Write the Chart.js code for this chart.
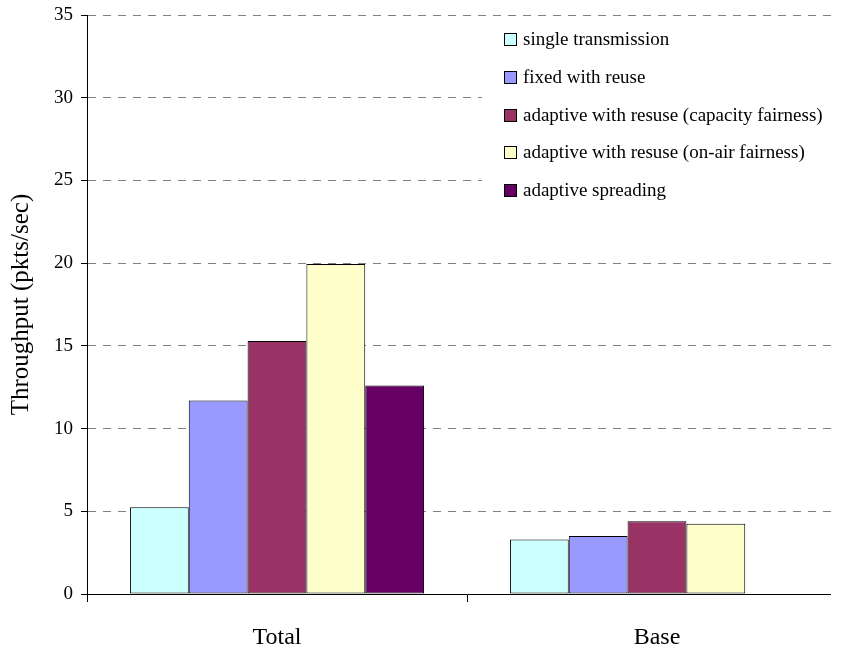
<!DOCTYPE html>
<html>

<head>
    <title>Throughput Bar Chart</title>
    <script src="https://cdn.jsdelivr.net/npm/chart.js"></script>
    <style>
        html, body {
            margin: 0;
            padding: 0;
            background: #fff;
            overflow: hidden;
        }
        
        /* the original figure stops a little short of the right edge */
        #wrap {
            width: 831px;
            height: 649px;
            overflow: hidden;
        }
    </style>
</head>

<body>
    <div id="wrap">
        <canvas id="myChart" width="860" height="649"></canvas>
    </div>

    <script>
        // Data
        const categories = ['Total', 'Base'];
        const seriesNames = [
            'single transmission',
            'fixed with reuse',
            'adaptive with resuse (capacity fairness)',
            'adaptive with resuse (on-air fairness)',
            'adaptive spreading'
        ];
        const singleTransmission = [5.25, 3.3];
        const fixedReuse = [11.7, 3.5];
        const adaptiveCapacity = [15.3, 4.4];
        const adaptiveOnAir = [19.95, 4.25];
        const adaptiveSpreading = [12.6, null];
        const yTicks = [0, 5, 10, 15, 20, 25, 30, 35];

        const colors = ['#CCFFFF', '#9999FF', '#993366', '#FFFFCC', '#660066'];
        const serif = "'Liberation Serif', 'Times New Roman', serif";

        const values = [singleTransmission, fixedReuse, adaptiveCapacity, adaptiveOnAir, adaptiveSpreading];

        const datasets = seriesNames.map(function(name, i) {
            return {
                label: name,
                data: values[i],
                backgroundColor: colors[i],
                borderColor: '#000',
                borderWidth: 1,
                borderSkipped: false,
                inflateAmount: 0,
                categoryPercentage: 0.774,
                barPercentage: 1.0
            };
        });

        // legend drawn inside the plot, on a white box that hides the grid lines
        const boxLegend = {
            id: 'boxLegend',
            afterDatasetsDraw(chart) {
                const c = chart.ctx;
                c.save();
                c.fillStyle = '#fff';
                c.fillRect(482, 20, 380, 195);
                c.font = '19px ' + serif;
                c.textBaseline = 'middle';
                c.textAlign = 'left';
                chart.data.datasets.forEach(function(ds, i) {
                    const y = Math.round(39 + i * 37.8);
                    c.fillStyle = ds.backgroundColor;
                    c.fillRect(504.5, y - 5.5, 12, 12);
                    c.strokeStyle = '#000';
                    c.lineWidth = 1;
                    c.strokeRect(504.5, y - 5.5, 12, 12);
                    c.fillStyle = '#000';
                    c.fillText(ds.label, 523, y + 1);
                });
                c.restore();
            }
        };

        const ctx = document.getElementById('myChart').getContext('2d');

        new Chart(ctx, {
            type: 'bar',
            data: {
                labels: categories,
                datasets: datasets
            },
            options: {
                responsive: false,
                animation: false,
                layout: {
                    padding: { top: 15, right: 13, left: 0, bottom: 0 }
                },
                plugins: {
                    legend: { display: false },
                    tooltip: { enabled: false }
                },
                scales: {
                    x: {
                        grid: {
                            display: true,
                            drawOnChartArea: false,
                            drawTicks: true,
                            tickLength: 8,
                            tickColor: '#000',
                            offset: true
                        },
                        border: { color: '#000', width: 1 },
                        ticks: {
                            color: '#000',
                            padding: 21,
                            font: { family: serif, size: 24 }
                        },
                        afterFit: function(scale) {
                            scale.height = 55;
                            scale.paddingLeft = 0;
                            scale.paddingRight = 0;
                        }
                    },
                    y: {
                        min: 0,
                        max: 35,
                        afterBuildTicks: function(scale) {
                            scale.ticks = yTicks.map(function(v) { return { value: v }; });
                        },
                        grid: {
                            color: function(c) {
                                return c.tick && c.tick.value === 0 ? 'rgba(0,0,0,0)' : '#808080';
                            },
                            tickColor: '#000',
                            tickLength: 6,
                            tickBorderDash: []
                        },
                        border: { color: '#000', width: 1, dash: [8, 7] },
                        ticks: {
                            color: '#000',
                            padding: 8,
                            font: { family: serif, size: 19 }
                        },
                        title: {
                            display: true,
                            text: 'Throughput (pkts/sec)',
                            color: '#000',
                            padding: { top: 6, bottom: 0 },
                            font: { family: serif, size: 25 }
                        },
                        afterFit: function(scale) {
                            scale.width = 87;
                            // keep the top/bottom label overhang from pushing the plot in
                            scale.paddingTop = 0;
                            scale.paddingBottom = 0;
                        }
                    }
                }
            },
            plugins: [boxLegend]
        });
    </script>
</body>

</html>
